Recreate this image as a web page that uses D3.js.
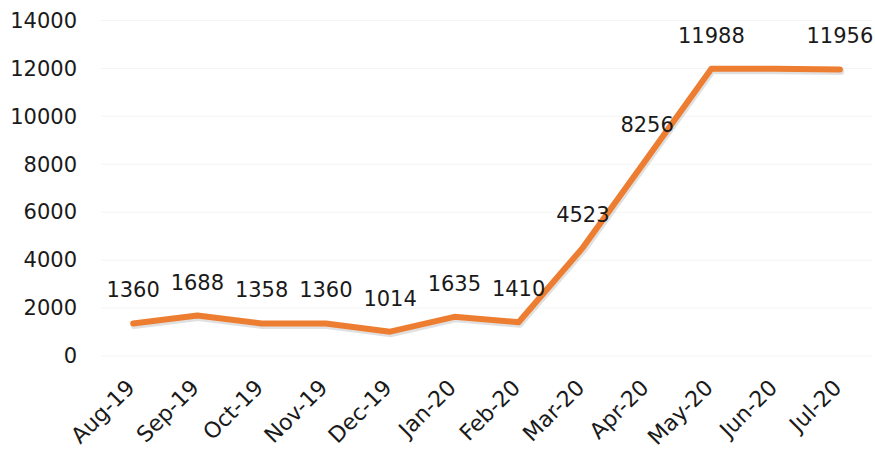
<!DOCTYPE html>
<html>
<head>
<meta charset="utf-8">
<script src="https://cdn.jsdelivr.net/npm/d3@7"></script>
<style>
  body { margin: 0; background: #fff; }
  svg { display: block; }
  text { font-family: "DejaVu Sans", sans-serif; fill: #1a1a1a; }
</style>
</head>
<body>
<svg width="875" height="450"></svg>
<script>
(function () {
    'use strict';

    const months = ['Aug-19', 'Sep-19', 'Oct-19', 'Nov-19', 'Dec-19', 'Jan-20',
        'Feb-20', 'Mar-20', 'Apr-20', 'May-20', 'Jun-20', 'Jul-20'];
    // line as drawn in the picture
    const values = [1360, 1688, 1358, 1360, 1014, 1635, 1410, 4523, 8256, 11988, 11988, 11956];
    // data labels shown (Jun-20 has none)
    const labels = ['1360', '1688', '1358', '1360', '1014', '1635', '1410', '4523', '8256', '11988', '', '11956'];
    const yTicks = [0, 2000, 4000, 6000, 8000, 10000, 12000, 14000];

    const width = 875;
    const height = 450;
    const margin = ({ top: 20.5, right: 3, bottom: 94, left: 101 });

    const svg = d3.select('svg').attr('viewBox', [0, 0, width, height]);

    const x = d3.scaleBand()
        .domain(months)
        .range([margin.left, width - margin.right]);

    const y = d3.scaleLinear()
        .domain([0, 14000])
        .range([height - margin.bottom, margin.top]);

    const cx = d => x(d) + x.bandwidth() / 2;

    // faint gridlines
    svg.append('g')
        .selectAll('line')
        .data(yTicks)
        .join('line')
        .attr('x1', margin.left)
        .attr('x2', width - margin.right)
        .attr('y1', d => y(d))
        .attr('y2', d => y(d))
        .attr('stroke', '#f5f5f5')
        .attr('stroke-width', 1);

    // y axis labels
    const yAxis = svg.append('g')
        .attr('transform', `translate(${margin.left - 24},0)`)
        .call(d3.axisLeft(y).tickValues(yTicks).tickFormat(d3.format('d')).tickSize(0).tickPadding(0));
    yAxis.select('.domain').remove();
    yAxis.selectAll('text')
        .attr('font-size', 21)
        .attr('font-family', '"DejaVu Sans", sans-serif')
        .attr('fill', '#1a1a1a');

    // x axis labels
    const xAxis = svg.append('g')
        .attr('transform', `translate(0,${y(0)})`)
        .call(d3.axisBottom(x).tickSize(0).tickPadding(0));
    xAxis.select('.domain').remove();
    xAxis.selectAll('text')
        .attr('font-size', 22)
        .attr('font-family', '"DejaVu Sans", sans-serif')
        .attr('fill', '#1a1a1a')
        .attr('text-anchor', 'end')
        .attr('dy', null)
        .attr('transform', 'translate(3,33) rotate(-45)');

    const pts = months.map((m, i) => [cx(m), y(values[i])]);

    // soft shadow under the line
    svg.append('path')
        .attr('d', d3.line()(pts.map(p => [p[0] + 1, p[1] + 2])))
        .attr('fill', 'none')
        .attr('stroke', 'rgba(0,0,0,0.12)')
        .attr('stroke-width', 7)
        .attr('stroke-linejoin', 'round')
        .attr('stroke-linecap', 'round');

    svg.append('path')
        .attr('d', d3.line()(pts))
        .attr('fill', 'none')
        .attr('stroke', '#ED7D31')
        .attr('stroke-width', 6)
        .attr('stroke-linejoin', 'round')
        .attr('stroke-linecap', 'round');

    svg.append('g')
        .selectAll('text')
        .data(months)
        .join('text')
        .attr('x', d => cx(d))
        .attr('y', (d, i) => y(values[i]) - 26)
        .attr('text-anchor', 'middle')
        .attr('font-size', 21)
        .text((d, i) => labels[i]);
})();
</script>
</body>
</html>
